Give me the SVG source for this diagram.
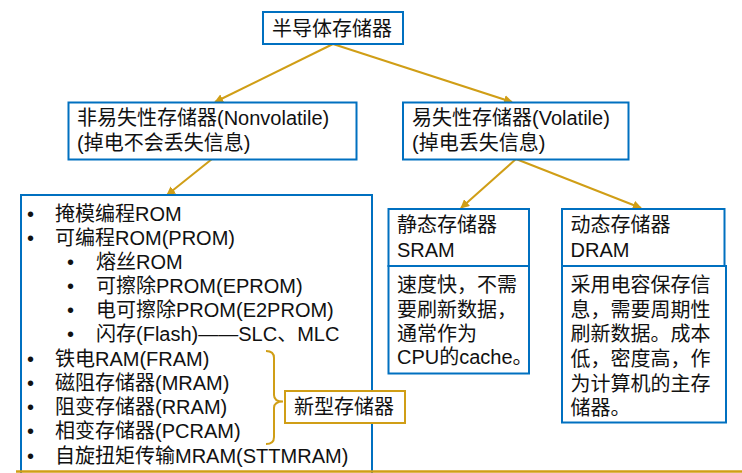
<svg xmlns="http://www.w3.org/2000/svg" width="742" height="473" viewBox="0 0 742 473">
<defs>
<style>
.box{fill:#fff;stroke:#0070C0;stroke-width:2}
.gbox{fill:#fff;stroke:#D09E16;stroke-width:2}
.t{font-family:"Liberation Sans","Noto Sans CJK SC",sans-serif;font-size:20px;fill:#111}
.c{stroke:#D09E16;stroke-width:2;fill:none}
</style>
<marker id="ah" viewBox="0 0 10 10" refX="9" refY="5" markerWidth="4.5" markerHeight="4.5" orient="auto" markerUnits="strokeWidth">
<path d="M0,0 L10,5 L0,10 z" fill="#D09E16"/>
</marker>
</defs>
<rect width="742" height="473" fill="#fff"/>
<g id="connectors">
<line class="c" x1="333" y1="44" x2="215" y2="102" marker-end="url(#ah)"/>
<line class="c" x1="333" y1="44" x2="512" y2="102" marker-end="url(#ah)"/>
<line class="c" x1="212" y1="159" x2="167" y2="195" marker-end="url(#ah)"/>
<line class="c" x1="516" y1="159" x2="461" y2="208" marker-end="url(#ah)"/>
<line class="c" x1="516" y1="159" x2="641" y2="208" marker-end="url(#ah)"/>
</g>
<g id="root">
<rect class="box" x="263" y="12" width="140" height="32"/>
<text class="t" x="272" y="36">半导体存储器</text>
</g>
<g id="nonvolatile">
<rect class="box" x="68.5" y="102.5" width="288" height="57"/>
<text class="t" x="77" y="125">非易失性存储器(Nonvolatile)</text>
<text class="t" x="77" y="150">(掉电不会丢失信息)</text>
</g>
<g id="volatile">
<rect class="box" x="403" y="102.5" width="225.5" height="57"/>
<text class="t" x="412" y="125">易失性存储器(Volatile)</text>
<text class="t" x="412" y="150">(掉电丢失信息)</text>
</g>
<g id="list">
<rect class="box" x="21" y="195" width="351" height="290"/>
<text class="t" x="27" y="220.5">•<tspan x="55">掩模编程ROM</tspan></text>
<text class="t" x="27" y="244.5">•<tspan x="55">可编程ROM(PROM)</tspan></text>
<text class="t" x="67" y="268.5">•<tspan x="96">熔丝ROM</tspan></text>
<text class="t" x="67" y="292.5">•<tspan x="96">可擦除PROM(EPROM)</tspan></text>
<text class="t" x="67" y="317">•<tspan x="96">电可擦除PROM(E2PROM)</tspan></text>
<text class="t" x="67" y="341">•<tspan x="96">闪存(Flash)——SLC、MLC</tspan></text>
<text class="t" x="27" y="365.5">•<tspan x="55">铁电RAM(FRAM)</tspan></text>
<text class="t" x="27" y="389.5">•<tspan x="55">磁阻存储器(MRAM)</tspan></text>
<text class="t" x="27" y="414">•<tspan x="55">阻变存储器(RRAM)</tspan></text>
<text class="t" x="27" y="438">•<tspan x="55">相变存储器(PCRAM)</tspan></text>
<text class="t" x="27" y="462.5">•<tspan x="55">自旋扭矩传输MRAM(STTMRAM)</tspan></text>
</g>
<g id="new-type">
<path class="c" d="M266,351 Q274,351 274,358 V395 Q274,401.5 283,401.5 Q274,401.5 274,408 V437 Q274,444 266,444"/>
<rect class="gbox" x="285" y="391" width="120" height="32"/>
<text class="t" x="294" y="414">新型存储器</text>
</g>
<g id="sram">
<rect class="box" x="388.5" y="209" width="140.5" height="57"/>
<text class="t" x="397" y="232">静态存储器</text>
<text class="t" x="397" y="257">SRAM</text>
<rect class="box" x="388.5" y="266" width="140.5" height="107.5"/>
<text class="t" x="397" y="292">速度快，不需</text>
<text class="t" x="397" y="316.5">要刷新数据，</text>
<text class="t" x="397" y="341">通常作为</text>
<text class="t" x="397" y="363.5">CPU的cache。</text>
</g>
<g id="dram">
<rect class="box" x="562" y="209" width="162.5" height="57"/>
<text class="t" x="570.5" y="232">动态存储器</text>
<text class="t" x="570.5" y="257">DRAM</text>
<rect class="box" x="562" y="266" width="164" height="156.5"/>
<text class="t" x="570.5" y="292">采用电容保存信</text>
<text class="t" x="570.5" y="316.5">息，需要周期性</text>
<text class="t" x="570.5" y="341">刷新数据。成本</text>
<text class="t" x="570.5" y="366">低，密度高，作</text>
<text class="t" x="570.5" y="390.5">为计算机的主存</text>
<text class="t" x="570.5" y="415">储器。</text>
</g>
<line x1="16" y1="471.5" x2="742" y2="471.5" stroke="#D09E16" stroke-width="2.5"/>
</svg>
